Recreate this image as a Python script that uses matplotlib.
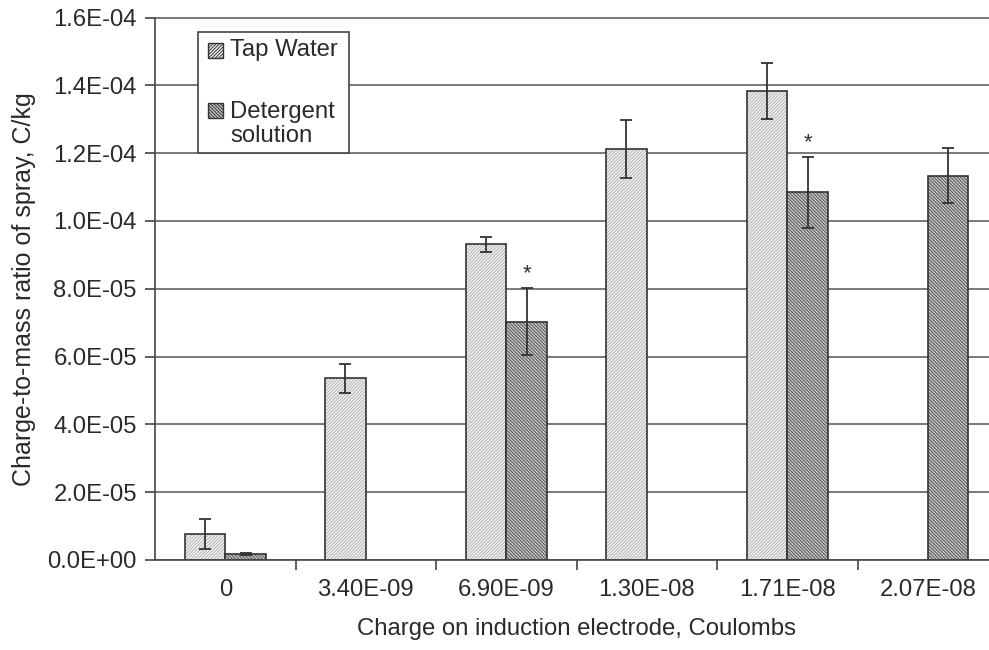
import numpy as np
import matplotlib
matplotlib.use('Agg')
import matplotlib.pyplot as plt
from matplotlib.patches import Rectangle
from matplotlib.ticker import FormatStrFormatter, FixedLocator

plt.rcParams['font.family'] = ['Liberation Sans', 'DejaVu Sans']
plt.rcParams['hatch.linewidth'] = 0.7

# Data
categories = ['0', '3.40E-09', '6.90E-09', '1.30E-08', '1.71E-08', '2.07E-08']
tap_water = [7.7e-6, 5.36e-5, 9.31e-5, 1.212e-4, 1.384e-4, np.nan]
tap_err = [4.4e-6, 4.2e-6, 2.3e-6, 8.5e-6, 8.3e-6, np.nan]
detergent = [1.7e-6, np.nan, 7.03e-5, np.nan, 1.084e-4, 1.133e-4]
det_err = [3e-7, np.nan, 9.8e-6, np.nan, 1.04e-5, 8.1e-6]
significant = [False, False, True, False, True, False]

W, H = 989, 650
fs = 17.2
txt = '#2a2a2a'
fig = plt.figure(figsize=(W / 100, H / 100), dpi=100)
# plot area runs past the right edge of the picture, like the original
ax = fig.add_axes([155 / W, 90 / H, 843 / W, 542.5 / H])

x = np.arange(len(categories))
bw = 0.29
edge = '#333333'
tap_hatch = '/' * 10
det_hatch = '\\' * 10

ax.bar(x - bw / 2, tap_water, bw, facecolor='#f2f2f2', edgecolor='#b4b4b4',
       hatch=tap_hatch, linewidth=0, zorder=3)
ax.bar(x - bw / 2, tap_water, bw, facecolor='none', edgecolor=edge,
       linewidth=1.2, zorder=3)
ax.bar(x + bw / 2, detergent, bw, facecolor='#c6c6c6', edgecolor='#555555',
       hatch=det_hatch, linewidth=0, zorder=3)
ax.bar(x + bw / 2, detergent, bw, facecolor='none', edgecolor=edge,
       linewidth=1.2, zorder=3)

ax.errorbar(x - bw / 2, tap_water, yerr=tap_err, fmt='none', ecolor=edge,
            elinewidth=1.3, capsize=4, capthick=1.3, zorder=4)
ax.errorbar(x + bw / 2, detergent, yerr=det_err, fmt='none', ecolor=edge,
            elinewidth=1.3, capsize=4, capthick=1.3, zorder=4)

for i, sig in enumerate(significant):
    if sig:
        ax.annotate('*', (x[i] + bw / 2, detergent[i] + det_err[i]),
                    xytext=(0, 3), textcoords='offset points',
                    ha='center', va='bottom', fontsize=16, color=edge)

ax.set_xlim(-0.5, len(categories) - 0.5)
ax.set_ylim(0, 1.6e-4)
ax.set_yticks(np.arange(0, 1.61e-4, 2e-5))
ax.yaxis.set_major_formatter(FormatStrFormatter('%.1E'))
ax.set_xticks(x)
ax.set_xticklabels(categories)
ax.xaxis.set_minor_locator(FixedLocator(np.arange(0.5, len(categories) - 0.5, 1)))
ax.tick_params(axis='x', which='major', length=0, pad=14, labelsize=fs, colors=txt)
ax.tick_params(axis='x', which='minor', length=7, width=1.2, color='#444444')
ax.tick_params(axis='y', length=7, width=1.2, color='#444444', labelsize=fs,
               labelcolor=txt, pad=6)

ax.grid(axis='y', color='#555555', linewidth=1.1, zorder=0)
ax.set_axisbelow(True)
for s in ['top', 'right']:
    ax.spines[s].set_visible(False)
for s in ['left', 'bottom']:
    ax.spines[s].set_color('#444444')
    ax.spines[s].set_linewidth(1.2)
    ax.spines[s].set_zorder(5)

ax.set_xlabel('Charge on induction electrode, Coulombs', fontsize=fs,
              color=txt, labelpad=12)
ax.set_ylabel('Charge-to-mass ratio of spray, C/kg', fontsize=fs + 0.8,
              color=txt, labelpad=8)

# legend box drawn by hand so the patch sits on the first line of the label
def fx(px):
    return px / W

def fy(py):
    return 1 - py / H

fig.add_artist(Rectangle((fx(198), fy(153)), fx(151), 121 / H, transform=fig.transFigure,
                         facecolor='white', edgecolor='#444444', linewidth=1.2, zorder=10))
fig.add_artist(Rectangle((fx(208), fy(58)), fx(15), 15 / H, transform=fig.transFigure,
                         facecolor='#f2f2f2', edgecolor=edge, hatch=tap_hatch,
                         linewidth=1.0, zorder=11))
fig.add_artist(Rectangle((fx(208), fy(118)), fx(15), 15 / H, transform=fig.transFigure,
                         facecolor='#c6c6c6', edgecolor=edge, hatch=det_hatch,
                         linewidth=1.0, zorder=11))
fig.text(fx(230), fy(50), 'Tap Water', fontsize=fs, color=txt,
         va='center', ha='left', zorder=12)
fig.text(fx(230), fy(124), 'Detergent\nsolution', fontsize=fs, color=txt,
         va='center', ha='left', linespacing=1.1, zorder=12)

fig.savefig('out.png', dpi=100)
